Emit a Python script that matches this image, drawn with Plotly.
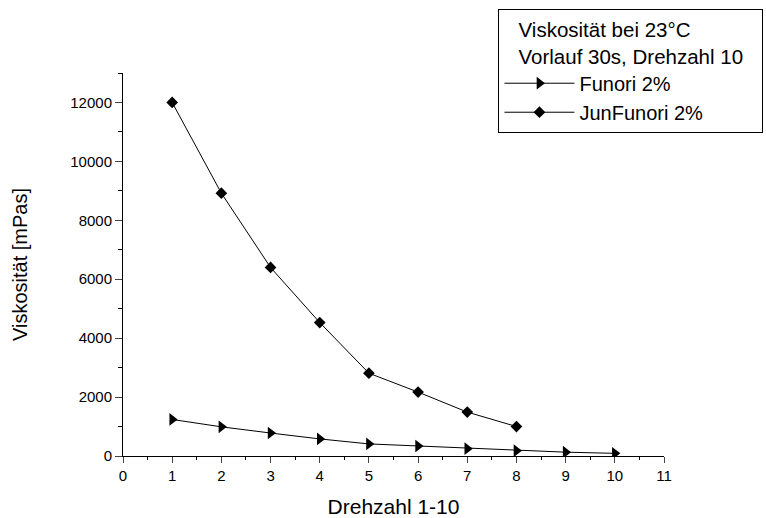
import plotly.graph_objects as go

drehzahl_funori = [1, 2, 3, 4, 5, 6, 7, 8, 9, 10]
funori = [1240, 990, 780, 580, 410, 340, 250, 180, 130, 90]
drehzahl_jun = [1, 2, 3, 4, 5, 6, 7, 8]
junfunori = [12000, 8920, 6400, 4530, 2810, 2170, 1490, 1000]

x_ticks = list(range(0, 12))
y_ticks = [0, 2000, 4000, 6000, 8000, 10000, 12000]
y_ticktext = [str(v) for v in y_ticks]

fig = go.Figure()
fig.add_trace(go.Scatter(x=drehzahl_funori, y=funori, mode="lines+markers",
                         name="Funori 2%", line=dict(color="black", width=1),
                         marker=dict(symbol="triangle-right", size=11, color="black")))
fig.add_trace(go.Scatter(x=drehzahl_jun, y=junfunori, mode="lines+markers",
                         name="JunFunori 2%", line=dict(color="black", width=1),
                         marker=dict(symbol="diamond", size=9, color="black")))

font = "Liberation Sans, Arial, sans-serif"
fig.update_layout(
    width=766, height=518,
    margin=dict(l=123, r=102, t=73, b=62, autoexpand=False),
    paper_bgcolor="white", plot_bgcolor="white",
    font=dict(family=font, color="black", size=15),
    showlegend=True,
    legend=dict(
        title=dict(text="&nbsp;&nbsp;&nbsp;Viskosität bei 23°C<br>&nbsp;&nbsp;&nbsp;Vorlauf 30s, Drehzahl 10&nbsp;&nbsp;&nbsp;",
                   font=dict(size=20.5)),
        font=dict(size=20), x=0.694, y=1.166, xanchor="left", yanchor="top",
        bordercolor="black", borderwidth=1, bgcolor="white",
        tracegroupgap=0, itemwidth=70,
    ),
    xaxis=dict(range=[0, 11], tickvals=x_ticks, ticks="outside", ticklen=6, tickwidth=1,
               showline=True, linecolor="black", linewidth=1, showgrid=False, zeroline=False,
               automargin=False,
               minor=dict(dtick=0.5, ticks="outside", ticklen=3, tickcolor="black", showgrid=False),
               title=dict(text="Drehzahl 1-10", font=dict(size=21), standoff=16),
               tickfont=dict(size=15)),
    yaxis=dict(range=[0, 13000], tickvals=y_ticks, ticktext=y_ticktext, ticks="outside",
               ticklen=7, tickwidth=1,
               showline=True, linecolor="black", linewidth=1, showgrid=False, zeroline=False,
               automargin=False,
               minor=dict(dtick=1000, ticks="outside", ticklen=4, tickcolor="black", showgrid=False),
               title=dict(text="Viskosität [mPas]", font=dict(size=20), standoff=37),
               tickfont=dict(size=15)),
)
fig.write_html("out.html", config={"displayModeBar": False},
               post_script="document.body.style.margin='0';")
